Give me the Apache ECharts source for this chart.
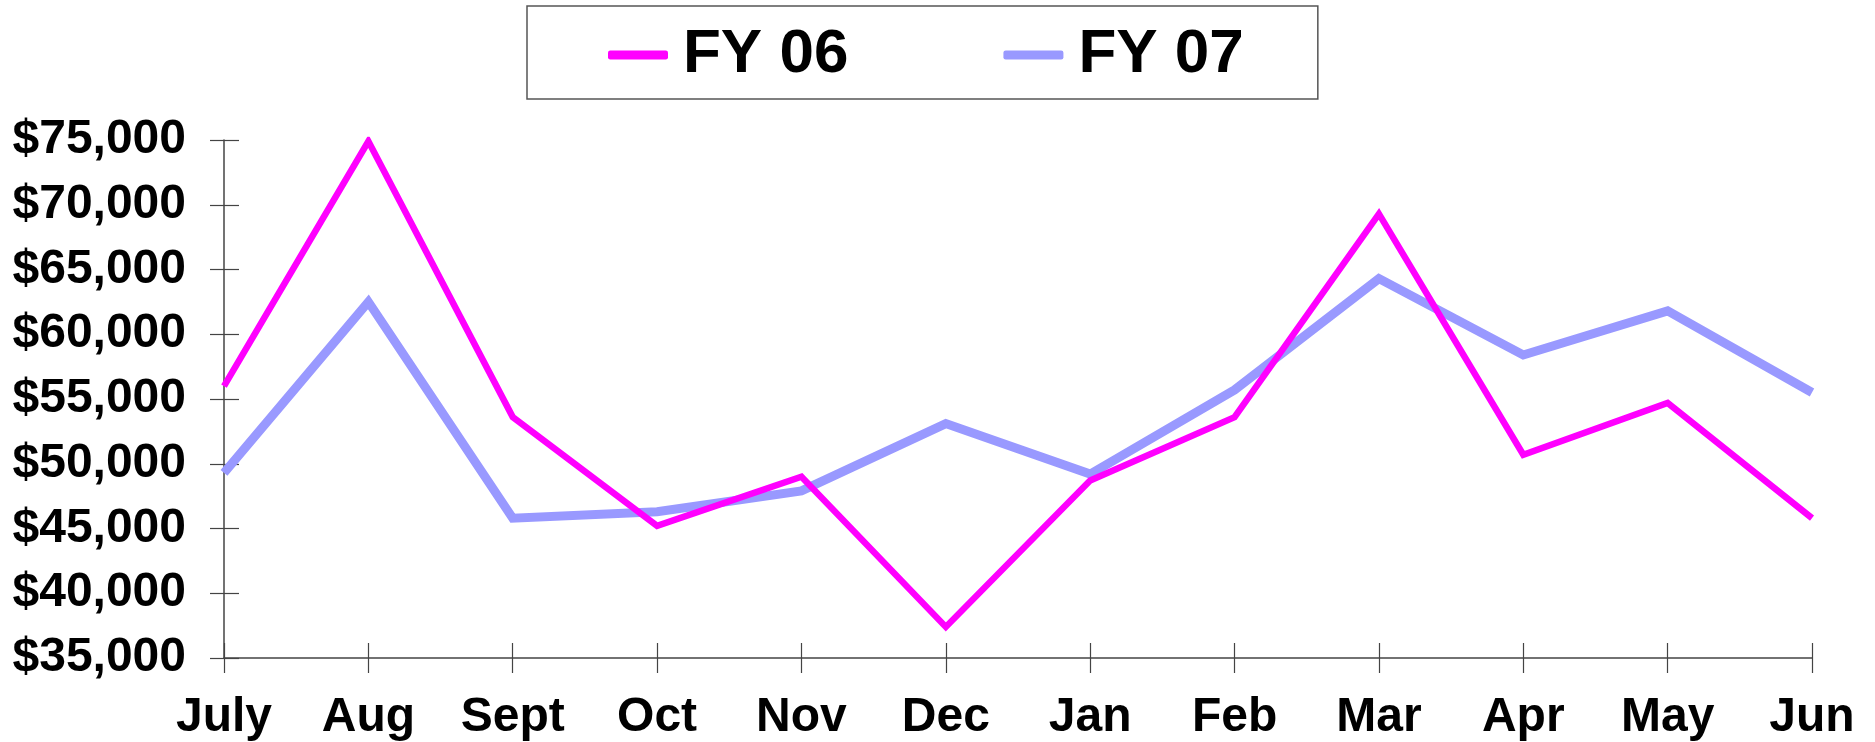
<!DOCTYPE html>
<html>
<head>
<meta charset="utf-8">
<script src="https://cdn.jsdelivr.net/npm/echarts@6/dist/echarts.min.js"></script>
<style>
  html, body { margin: 0; padding: 0; background: #fff; }
  #chart { width: 1875px; height: 742px; }
</style>
</head>
<body>
<div id="chart"></div>
<script>
const months = ['July', 'Aug', 'Sept', 'Oct', 'Nov', 'Dec', 'Jan', 'Feb', 'Mar', 'Apr', 'May', 'Jun']
const fy06 = [56000, 74900, 53600, 45200, 49000, 37400, 48700, 53600, 69300, 50700, 54700, 45800]
const fy07 = [49300, 62500, 45800, 46300, 47900, 53100, 49200, 55700, 64300, 58400, 61800, 55500]
const yMin = 35000
const yMax = 75000
const yStep = 5000

; (function () {
  const myChart = echarts.init(document.getElementById('chart'))
  const font = '"Liberation Sans", Arial, sans-serif'
  const axisColor = '#444'

  const option = {
    animation: false,
    textStyle: { fontFamily: font },
    legend: {
      left: 527,
      top: 6,
      padding: [8, 74, 3, 81],
      itemGap: 155,
      itemWidth: 60,
      itemHeight: 9,
      icon: 'roundRect',
      borderColor: '#555',
      borderWidth: 1.5,
      textStyle: {
        fontSize: 62,
        fontWeight: 'bold',
        color: '#000',
        fontFamily: font,
        lineHeight: 62,
        padding: [20, 0, 0, 10]
      },
      data: ['FY 06', 'FY 07']
    },
    grid: { left: 224, right: 63, top: 140, bottom: 81 },
    xAxis: [
      {
        type: 'category',
        data: months,
        boundaryGap: false,
        axisLine: { lineStyle: { color: axisColor, width: 1.5 } },
        axisTick: { length: 15, lineStyle: { color: axisColor, width: 1.2 } },
        axisLabel: { margin: 36, fontSize: 48, fontWeight: 'bold', color: '#000', fontFamily: font },
        splitLine: { show: false }
      },
      {   // ticks crossing the axis line upward
        type: 'category',
        data: months,
        boundaryGap: false,
        position: 'bottom',
        axisLine: { show: false },
        axisTick: { inside: true, length: 15, lineStyle: { color: axisColor, width: 1.2 } },
        axisLabel: { show: false },
        splitLine: { show: false }
      }
    ],
    yAxis: [
      {
        type: 'value',
        min: yMin,
        max: yMax,
        interval: yStep,
        axisLine: { show: true, lineStyle: { color: axisColor, width: 1.5 } },
        axisTick: { show: true, length: 14, lineStyle: { color: axisColor, width: 1.2 } },
        axisLabel: {
          margin: 38,
          fontSize: 48,
          fontWeight: 'bold',
          color: '#000',
          fontFamily: font,
          formatter: v => '$' + v.toLocaleString('en-US')
        },
        splitLine: { show: false }
      },
      {
        type: 'value',
        min: yMin,
        max: yMax,
        interval: yStep,
        position: 'left',
        axisLine: { show: false },
        axisTick: { show: true, inside: true, length: 15, lineStyle: { color: axisColor, width: 1.2 } },
        axisLabel: { show: false },
        splitLine: { show: false }
      }
    ],
    series: [
      {
        name: 'FY 06',
        type: 'line',
        data: fy06,
        showSymbol: false,
        color: '#ff00ff',
        lineStyle: { width: 6.5, color: '#ff00ff', join: 'miter' },
        z: 3
      },
      {
        name: 'FY 07',
        type: 'line',
        data: fy07,
        showSymbol: false,
        color: '#9999ff',
        lineStyle: { width: 9, color: '#9999ff', join: 'miter' },
        z: 2
      }
    ]
  }

  myChart.setOption(option)
  window.addEventListener('resize', function () {
    myChart.resize()
  })
})()
</script>
</body>
</html>
